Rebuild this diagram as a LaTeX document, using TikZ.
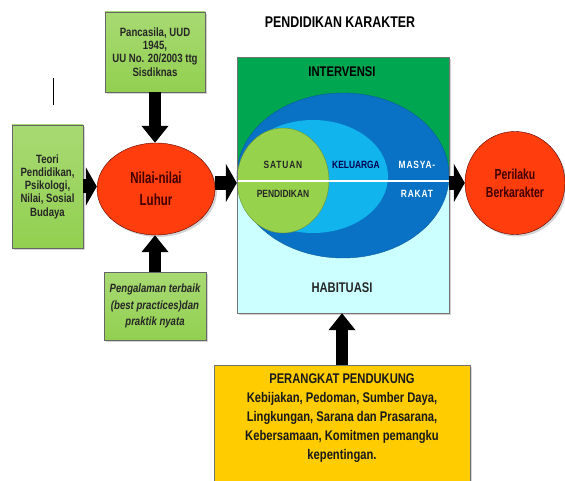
\documentclass[tikz,border=0pt]{standalone}
\usepackage{fontspec}
\setmainfont[FakeStretch=0.8]{Liberation Sans}
\newfontfamily\spaced[FakeStretch=0.8,LetterSpace=8]{Liberation Sans}
\newfontfamily\sempit[FakeStretch=0.72]{Liberation Sans}
\usetikzlibrary{shapes.geometric, arrows.meta, shadows}
\definecolor{kotakhijau}{HTML}{92D050}
\definecolor{merah}{HTML}{FF3D0D}
\definecolor{hijautua}{HTML}{00A650}
\definecolor{biru}{HTML}{0A72C4}
\definecolor{birumuda}{HTML}{12B4EE}
\definecolor{cyanmuda}{HTML}{CCFFFF}
\definecolor{kuning}{HTML}{FFCC00}
\tikzset{>=stealth,
  bayang/.style={drop shadow={opacity=0.35, shadow xshift=2pt, shadow yshift=-2pt}},
  kotak/.style={draw=black!60, top color=kotakhijau!80!white, bottom color=kotakhijau, align=center, inner sep=0pt, bayang,
    text=black!85, font=\bfseries\fontsize{12}{13.3}\selectfont},
  oval/.style={ellipse, draw=red!35!black, fill=merah, align=center, inner sep=0pt, bayang,
    text=red!25!black},
  lingkar/.style={ellipse, inner sep=0pt},
  label/.style={font=\bfseries\fontsize{#1}{#1}\selectfont, inner sep=0pt},
  vpanah/.style={line width=12pt, -{Triangle[length=17pt, width=26pt]}},
  hpanah/.style={line width=14pt, -{Triangle[length=11pt, width=38pt]}}
}

\begin{document}
\begin{tikzpicture}[x=1pt, y=-1pt]
\useasboundingbox (0,0) rectangle (565,481);
\draw[line width=1pt] (53,78) coordinate (garisa) -- (53,105) coordinate (garisb);
\node[label=15.5] (judul) at (340,22) {PENDIDIKAN KARAKTER};
\node[kotak, minimum width=100, minimum height=80] (pancasila) at (155,52)
  {Pancasila, UUD\\1945,\\UU No. 20/2003 ttg\\Sisdiknas};
\node[kotak, minimum width=71, minimum height=123] (teori) at (47.5,186.5)
  {Teori\\Pendidikan,\\Psikologi,\\Nilai, Sosial\\Budaya};
\node[kotak, minimum width=102, minimum height=68,
  font=\bfseries\itshape\fontsize{12}{16.5}\selectfont] (pengalaman) at (155,306)
  {Pengalaman terbaik\\(best practices)dan\\praktik nyata};
\node[oval, minimum width=118, minimum height=92,
  font=\bfseries\sempit\fontsize{16}{22}\selectfont] (nilai) at (156,189) {Nilai-nilai\\Luhur};
\node[oval, minimum width=100, minimum height=103,
  font=\bfseries\sempit\fontsize{14.5}{18}\selectfont] (perilaku) at (515,183) {Perilaku\\Berkarakter};
\node[draw=black!55, fill=cyanmuda, minimum width=212, minimum height=256, bayang] (kotakbesar) at (343,185) {};
\fill[hijautua] (kotakbesar.north west) rectangle ([yshift=4pt]kotakbesar.east);
\node[lingkar, fill=biru, draw=biru!80!black, minimum width=212, minimum height=165] (masyarakat) at (343,175.5) {};
\node[lingkar, fill=birumuda, minimum width=150, minimum height=113] (keluarga) at (313,176.5) {};
\node[lingkar, fill=kotakhijau!95!yellow, draw=kotakhijau!70!black, minimum width=92, minimum height=105] (satuan) at (283,180.5) {};
\draw[white, line width=2.5pt] (kotakbesar.west |- 0,181) coordinate (putiha) -- (kotakbesar.east |- 0,181) coordinate (putihb);
\draw[black!55] (kotakbesar.north west) rectangle (kotakbesar.south east);
\node[label=14] (intervensi) at (342,72) {INTERVENSI};
\node[label=14, text=black!85] (habituasi) at (342,288) {HABITUASI};
\node[font=\bfseries\spaced\fontsize{10.5}{10.5}\selectfont, text=black!85] (satuana) at (283,165) {SATUAN};
\node[label=10.5, text=black!85] (satuanb) at (283,194) {PENDIDIKAN};
\node[label=10.5, text=blue!30!black] (keluargateks) at (356,165) {KELUARGA};
\node[font=\bfseries\spaced\fontsize{10.5}{10.5}\selectfont, text=white] (masyaa) at (417,165) {MASYA-};
\node[font=\bfseries\spaced\fontsize{10.5}{10.5}\selectfont, text=white] (masyab) at (417,194) {RAKAT};
\node[draw=black!55, fill=kuning, minimum width=256, minimum height=130, anchor=north, bayang] (pendukung) at (342,365) {};
\node[align=center, font=\bfseries\fontsize{14}{19}\selectfont, text=black!90] (pendukungteks) at (342,418)
  {PERANGKAT PENDUKUNG\\Kebijakan, Pedoman, Sumber Daya,\\Lingkungan, Sarana dan Prasarana,\\Kebersamaan, Komitmen pemangku\\kepentingan.};
\draw[vpanah] (pancasila.south) -- (pancasila.south |- nilai.north);
\draw[vpanah] (pengalaman.north) -- (pengalaman.north |- nilai.south);
\draw[hpanah] (teori.east) -- (teori.east -| nilai.west);
\draw[hpanah] (nilai.east |- 0,183) -- (kotakbesar.west |- 0,183);
\draw[hpanah] (kotakbesar.east |- perilaku.west) -- (perilaku.west);
\draw[vpanah] (pendukung.north) -- (pendukung.north |- kotakbesar.south);
\end{tikzpicture}
\end{document}
